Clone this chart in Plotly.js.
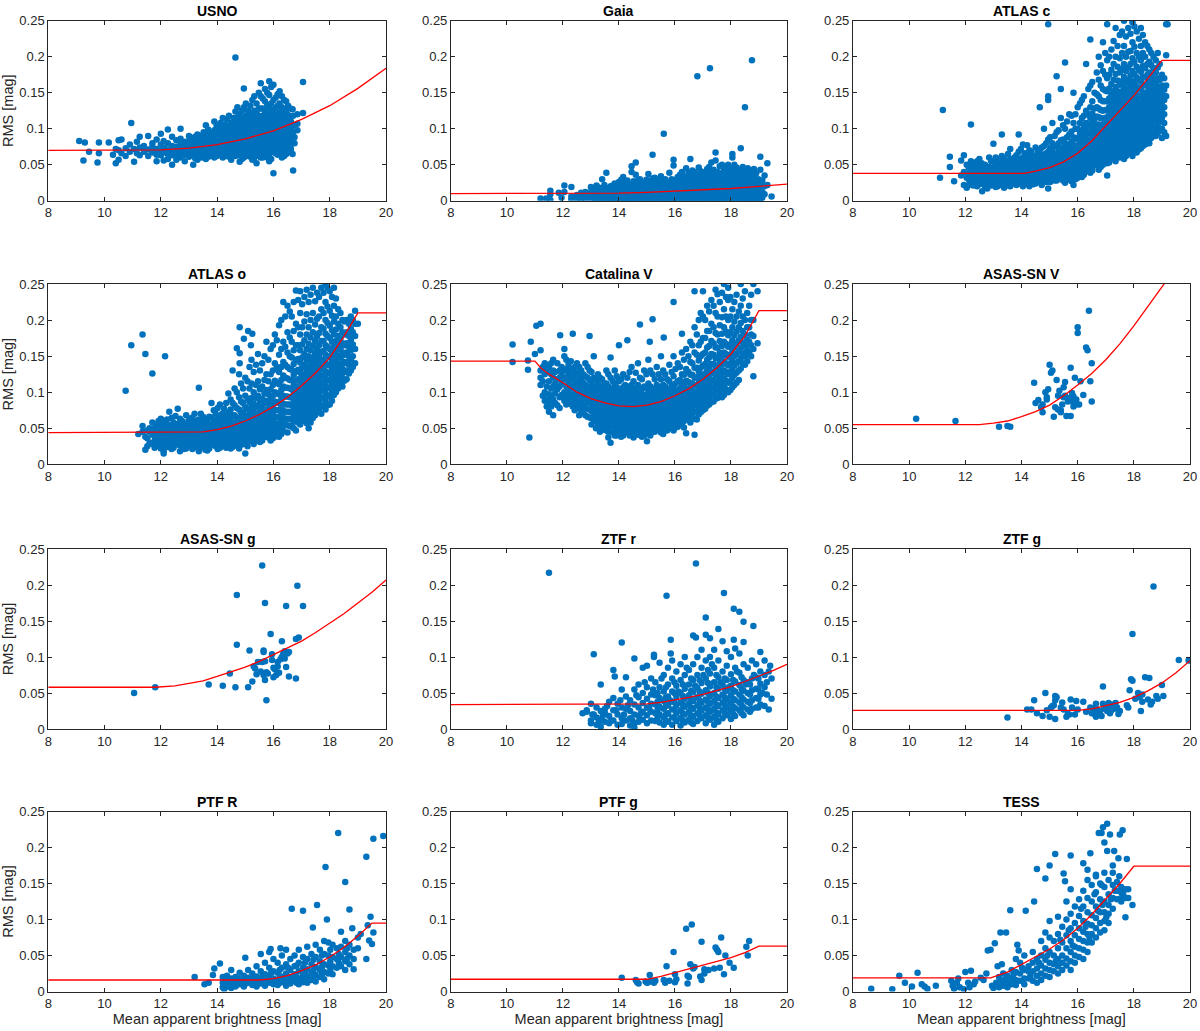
<!DOCTYPE html>
<html>
<head>
<meta charset="utf-8">
<script src="https://cdn.plot.ly/plotly-3.0.1.min.js"></script>
<style>
  html, body { margin: 0; padding: 0; background: #fff; }
  #plot { width: 1200px; height: 1031px; }
</style>
</head>
<body>
<div id="plot"></div>
<script>
// panel titles, in reading order
const panelNames = ['USNO', 'Gaia', 'ATLAS c', 'ATLAS o', 'Catalina V', 'ASAS-SN V',
  'ASAS-SN g', 'ZTF r', 'ZTF g', 'PTF R', 'PTF g', 'TESS']

const xTicks = [8, 10, 12, 14, 16, 18, 20]
const yTicks = [0, 0.05, 0.1, 0.15, 0.2, 0.25]
const yTickText = ['0', '0.05', '0.1', '0.15', '0.2', '0.25']

// scatter data: each entry is [magnitude, rms, rms, ...] (one column of points)
const usnoPts = [
  [9.1,.083],[9.25,.056],[9.3,.081],[9.45,.068],[9.75,.053],[9.8,.081,.066],[10.15,.081],[10.3,.064],
  [10.4,.052,.072],[10.5,.084,.07,.057],[10.6,.085,.066],[10.75,.073,.062],[10.9,.078,.068],[10.95,.108],
  [11.05,.054,.072],[11.15,.082,.066],[11.25,.089,.074,.063],[11.4,.076,.068],[11.55,.09,.071,.062],
  [11.7,.08,.067,.075],[11.85,.085,.072,.064,.055],[12.0,.093,.078,.07,.063],[12.1,.083,.074,.067,.056],
  [12.25,.099,.08,.071,.065,.058],[12.4,.089,.076,.069,.063,.05],[12.55,.084,.075,.07,.064,.057],
  [12.7,.1,.086,.078,.072,.066,.06],[12.85,.082,.075,.07,.064,.055],
  [13.0,.09,.083,.078,.074,.07,.066,.061],[13.15,.087,.08,.076,.072,.068,.063,.05],
  [13.3,.092,.085,.079,.075,.071,.067,.062,.057],[13.45,.09,.083,.078,.074,.07,.066,.06],
  [13.6,.105,.093,.087,.081,.077,.073,.069,.064,.058],[13.75,.095,.088,.083,.079,.075,.071,.067,.062],
  [13.9,.11,.098,.091,.086,.082,.078,.074,.07,.065,.06],[14.05,.1,.093,.088,.084,.08,.076,.072,.068,.063],
  [14.2,.115,.104,.096,.09,.086,.082,.078,.074,.07,.066,.06],[14.35,.113,.1,.094,.089,.085,.081,.077,.073,.069,.064],
  [14.5,.108,.099,.093,.088,.084,.08,.076,.072,.068,.063,.057],
  [14.65,.199,.124,.11,.102,.096,.091,.087,.083,.079,.075,.071,.066,.062],
  [14.8,.12,.108,.1,.095,.09,.086,.082,.078,.074,.07,.065,.054],
  [14.95,.156,.13,.115,.106,.1,.095,.091,.087,.083,.079,.075,.071,.066,.06],
  [15.1,.125,.113,.105,.099,.094,.09,.086,.082,.078,.074,.07,.065],
  [15.25,.14,.12,.11,.104,.099,.094,.09,.086,.082,.078,.074,.069,.063,.057],
  [15.4,.135,.122,.113,.106,.1,.095,.091,.087,.083,.079,.075,.07,.065,.052],
  [15.55,.163,.145,.128,.116,.108,.102,.097,.092,.088,.084,.08,.076,.071,.066,.06],
  [15.7,.155,.138,.124,.114,.107,.101,.096,.092,.088,.084,.08,.075,.07,.064],
  [15.85,.166,.147,.13,.118,.11,.104,.099,.094,.09,.086,.082,.077,.072,.066,.055],
  [16.0,.161,.14,.126,.116,.108,.102,.097,.093,.089,.085,.08,.075,.069,.038],
  [16.15,.148,.132,.12,.111,.104,.099,.094,.09,.086,.081,.076,.07,.064],
  [16.3,.145,.13,.119,.11,.103,.097,.092,.087,.082,.076,.068,.06],
  [16.45,.138,.124,.113,.105,.098,.092,.086,.08,.072,.065],
  [16.6,.128,.116,.106,.097,.09,.083,.075,.068],[16.7,.042,.095,.118],[16.85,.12,.107,.098],[17.05,.165,.122],
  [16.75,.105,.088,.08],[16.68,.127,.065],
  [13.08,.08,.072,.064],[13.22,.089,.082,.074,.066,.059],[13.38,.088,.081,.073,.069,.064],
  [13.52,.095,.086,.08,.076,.072,.068,.063],[13.68,.099,.09,.084,.079,.075,.071,.066,.061],
  [13.82,.092,.085,.081,.077,.073,.069,.064],[13.98,.104,.095,.089,.084,.08,.076,.072,.067,.062],
  [14.12,.108,.098,.092,.087,.083,.079,.075,.071,.066],[14.28,.106,.097,.092,.087,.083,.079,.075,.071,.067,.062],
  [14.42,.118,.103,.096,.091,.086,.082,.078,.074,.07,.066,.061],
  [14.58,.115,.104,.097,.092,.088,.084,.08,.076,.072,.068,.064],
  [14.72,.13,.116,.105,.098,.093,.089,.085,.081,.077,.073,.068,.063],
  [14.88,.125,.112,.104,.098,.093,.088,.084,.08,.076,.072,.067,.058],
  [15.02,.135,.118,.109,.102,.097,.092,.088,.084,.08,.076,.072,.068,.062],
  [15.18,.132,.117,.108,.101,.096,.092,.088,.084,.08,.076,.072,.067,.061],
  [15.32,.145,.125,.115,.107,.101,.096,.092,.088,.084,.08,.076,.071,.066,.06],
  [15.48,.15,.128,.118,.11,.104,.099,.094,.09,.085,.081,.077,.073,.068,.062],
  [15.62,.142,.128,.118,.111,.105,.099,.094,.09,.086,.082,.078,.073,.067,.06],
  [15.78,.15,.133,.121,.113,.106,.1,.095,.091,.087,.083,.078,.073,.068,.06],
  [15.92,.158,.135,.123,.114,.107,.101,.096,.091,.087,.083,.078,.073,.067,.058],
  [16.08,.143,.129,.118,.11,.104,.098,.093,.089,.084,.079,.073,.066],
  [16.22,.152,.135,.123,.114,.107,.101,.096,.091,.086,.08,.073,.066],
  [16.38,.14,.126,.116,.108,.101,.095,.089,.083,.077,.07,.062],
  [16.52,.132,.119,.109,.101,.094,.088,.081,.074,.067],[16.62,.11,.1,.086,.072]
]

const gaiaPts = [
  [11.2,.003],[11.4,.003],[11.55,.014,.009,.001],[11.85,.011],[11.95,.004],[12.05,.021,.012],
  [12.3,.019,.006,.002],[12.5,.008,.003],[12.65,.011,.005,.001],[12.8,.012,.007,.003],
  [13.0,.002,.007,.012,.019],[13.2,.001,.005,.01,.016,.021],[13.4,.003,.008,.013,.03],
  [13.55,.001,.006,.011,.017,.039],[13.7,.003,.008,.013,.02],[13.85,.001,.005,.01,.015,.024],
  [14.0,.002,.007,.012,.018,.026],[14.15,.001,.005,.01,.015,.021,.033],[14.3,.003,.008,.013,.019,.028],
  [14.45,.001,.005,.01,.016,.022,.048,.04],[14.6,.002,.007,.012,.017,.025,.053,.036],
  [14.75,.001,.005,.01,.015,.021,.03],[14.9,.003,.008,.013,.018,.026],[15.05,.001,.006,.011,.016,.022,.037],
  [15.2,.002,.007,.012,.017,.024,.064,.031],[15.35,.001,.005,.01,.015,.02,.028],
  [15.5,.003,.008,.013,.018,.025,.034],[15.6,.093],[15.65,.001,.006,.011,.016,.022,.03],
  [15.8,.002,.007,.012,.017,.023,.039],[15.95,.001,.005,.01,.015,.02,.027,.057,.049],
  [16.1,.003,.008,.013,.018,.024,.033],[16.25,.001,.006,.011,.016,.021,.028,.04],
  [16.4,.002,.007,.012,.017,.023,.031,.045],[16.55,.001,.005,.01,.015,.02,.026,.035,.058],
  [16.7,.003,.008,.013,.018,.024,.032,.04],[16.8,.173],[16.85,.001,.006,.011,.016,.021,.027,.036,.046],
  [17.0,.002,.007,.012,.017,.022,.029,.038],[17.15,.001,.005,.01,.015,.02,.026,.034,.044],[17.25,.184],
  [17.3,.003,.008,.013,.018,.023,.03,.04,.053],[17.45,.001,.006,.011,.016,.021,.027,.035,.067,.056],
  [17.6,.002,.007,.012,.017,.022,.028,.037,.048],[17.75,.001,.005,.01,.015,.02,.026,.033,.042],
  [17.9,.003,.008,.013,.018,.023,.029,.038,.05],[18.05,.001,.006,.011,.016,.021,.027,.035,.045,.065,.06],
  [18.2,.002,.007,.012,.017,.022,.028,.036,.046],[18.35,.001,.005,.01,.015,.02,.026,.033,.043,.073],
  [18.5,.003,.008,.013,.018,.023,.029,.038,.13],[18.6,.001,.006,.011,.016,.021,.027,.035,.045],
  [18.75,.002,.007,.012,.017,.022,.03,.04,.195],[18.9,.001,.005,.01,.015,.021,.028,.038],
  [19.05,.003,.009,.016,.024,.061,.043],[19.2,.009,.02,.035],[19.3,.052,.022],[19.45,.006],
  [13.1,.004,.009,.014],[13.3,.002,.007,.012,.018],[13.48,.004,.009,.015,.022],[13.62,.002,.007,.012,.017],
  [13.78,.004,.009,.014,.021],[13.92,.003,.008,.013,.019],[14.08,.004,.009,.014,.02,.029],
  [14.22,.003,.008,.012,.018,.024],[14.38,.002,.006,.011,.016,.022],[14.52,.003,.008,.013,.019,.027],
  [14.68,.004,.009,.014,.02,.028],[14.82,.003,.007,.012,.017,.023],[14.98,.004,.009,.014,.02,.029],
  [15.12,.003,.008,.013,.019,.027],[15.28,.004,.009,.014,.021,.032],[15.42,.002,.006,.011,.016,.022],
  [15.58,.004,.009,.014,.02,.028],[15.72,.003,.008,.013,.019,.026],[15.88,.004,.009,.014,.02,.03],
  [16.02,.003,.007,.012,.017,.022,.029],[16.18,.004,.009,.014,.02,.026,.036],[16.32,.003,.008,.013,.019,.025,.033],
  [16.48,.004,.009,.014,.02,.027,.038],[16.62,.003,.007,.012,.017,.023,.03,.042],
  [16.78,.004,.009,.014,.02,.026,.035],[16.92,.003,.008,.013,.019,.025,.032,.041],
  [17.08,.004,.009,.014,.019,.025,.031,.04],[17.22,.003,.007,.012,.018,.024,.03,.037,.047],
  [17.38,.004,.009,.014,.02,.026,.033,.043],[17.52,.003,.008,.013,.019,.025,.031,.04],
  [17.68,.004,.009,.014,.019,.024,.03,.038,.05],[17.82,.003,.007,.012,.017,.022,.028,.035,.045],
  [17.98,.004,.009,.014,.02,.025,.031,.04],[18.12,.003,.008,.013,.019,.025,.032,.041,.05],
  [18.28,.004,.009,.014,.019,.024,.03,.038],[18.42,.003,.007,.012,.017,.022,.028,.035,.047],
  [18.55,.004,.009,.014,.02,.026,.033,.042],[18.68,.003,.008,.013,.019,.025,.031,.038],
  [18.82,.004,.009,.014,.019,.025,.033,.044],[18.98,.003,.007,.012,.018,.023,.03],[19.12,.004,.012,.028]
]

const atlasCPts = [
  [11.1,.032],[11.2,.126],[11.45,.047,.061],[11.6,.027],[11.85,.056,.035],[11.95,.063,.04,.022],
  [12.05,.05,.032,.018],[12.2,.055,.045,.036,.028,.106],[12.35,.052,.043,.034,.025],
  [12.5,.058,.048,.04,.031,.023],[12.6,.013,.036],[12.7,.05,.043,.035,.028,.02],
  [12.85,.06,.047,.039,.032,.025],[13.0,.079,.055,.046,.038,.031,.023],[13.15,.058,.049,.041,.034,.027,.02],
  [13.3,.092,.062,.052,.044,.036,.029,.022],[13.45,.055,.047,.039,.032,.025],
  [13.6,.072,.058,.049,.041,.034,.027,.02],[13.75,.06,.05,.042,.035,.028],
  [13.9,.092,.068,.055,.046,.038,.031,.024],[14.05,.078,.06,.05,.042,.035,.028,.02],
  [14.2,.077,.063,.053,.045,.038,.031,.025],[14.35,.068,.057,.048,.041,.034,.027],
  [14.5,.074,.061,.052,.044,.037,.03,.024],[14.65,.13,.07,.058,.049,.042,.035,.028],
  [14.8,.1,.076,.064,.054,.046,.039,.032,.026],[14.95,.245,.145,.14,.085,.068,.058,.05,.043,.036,.029,.017],
  [15.1,.108,.08,.068,.059,.051,.044,.037,.03],[15.25,.173,.095,.075,.064,.056,.048,.041,.034,.028],
  [15.4,.155,.115,.084,.072,.063,.055,.047,.04,.033],[15.55,.192,.1,.08,.07,.061,.053,.046,.039,.032,.025],
  [15.7,.12,.092,.078,.068,.06,.052,.045,.038,.031],[15.85,.15,.108,.088,.077,.068,.06,.052,.045,.038,.03,.022],
  [16.0,.13,.1,.087,.077,.068,.06,.053,.046,.039,.032],[16.15,.14,.115,.097,.086,.077,.069,.061,.054,.047,.04,.033],
  [16.3,.19,.125,.108,.096,.086,.077,.069,.062,.055,.048,.041],
  [16.45,.224,.16,.13,.115,.103,.093,.084,.076,.068,.061,.054,.046,.039],
  [16.6,.15,.128,.114,.103,.094,.085,.077,.07,.063,.056,.049],
  [16.75,.2,.168,.145,.128,.116,.106,.097,.089,.081,.073,.066,.059,.051,.043],
  [16.9,.22,.18,.155,.138,.125,.114,.105,.096,.088,.08,.073,.066,.058,.05],
  [17.05,.245,.195,.17,.152,.138,.126,.116,.107,.098,.09,.082,.075,.067,.06,.052,.035],
  [17.2,.21,.182,.162,.147,.135,.124,.114,.105,.097,.089,.081,.073,.065,.058],
  [17.35,.24,.2,.176,.158,.144,.132,.122,.113,.104,.096,.088,.08,.072,.064,.055],
  [17.5,.23,.198,.178,.161,.148,.137,.127,.118,.109,.1,.092,.084,.076,.068,.06],
  [17.65,.25,.215,.19,.172,.157,.145,.135,.125,.116,.108,.1,.092,.084,.076,.067,.058],
  [17.8,.24,.207,.185,.168,.155,.144,.134,.125,.116,.108,.1,.092,.084,.075,.066],
  [17.95,.248,.22,.198,.18,.166,.154,.143,.133,.124,.115,.107,.099,.09,.081,.072,.062],
  [18.1,.235,.205,.186,.171,.159,.148,.138,.129,.12,.112,.103,.094,.085,.076,.067],
  [18.25,.24,.215,.195,.179,.166,.155,.145,.136,.127,.118,.11,.101,.092,.082,.073],
  [18.4,.22,.2,.184,.171,.16,.15,.141,.132,.123,.114,.105,.096,.086,.078],
  [18.55,.21,.193,.178,.166,.155,.146,.137,.128,.119,.11,.1,.09,.08],
  [18.7,.2,.184,.17,.158,.148,.139,.13,.121,.112,.102,.093],
  [18.85,.205,.185,.17,.158,.147,.137,.127,.117,.105,.094],
  [19.0,.175,.16,.148,.137,.127,.115,.1,.087],[19.15,.245,.202,.16,.145,.09],[19.2,.245],
  [12.12,.046,.038,.03,.022],[12.28,.05,.04,.031,.021],[12.42,.055,.046,.037,.029,.02],[12.58,.052,.044,.032,.025],
  [12.78,.047,.039,.031,.024,.017],[12.92,.055,.043,.035,.028,.021],[13.08,.06,.05,.042,.034,.027,.019],
  [13.22,.054,.045,.037,.03,.023],[13.38,.058,.048,.04,.033,.025,.018],[13.52,.065,.051,.043,.035,.028,.021],
  [13.68,.054,.045,.038,.031,.024],[13.82,.063,.053,.044,.037,.03,.022],[13.98,.072,.058,.048,.04,.033,.026],
  [14.12,.066,.055,.046,.038,.031,.024],[14.28,.07,.058,.049,.041,.034,.027,.02],[14.42,.062,.052,.044,.037,.03,.023],
  [14.58,.067,.056,.047,.04,.033,.026],[14.72,.074,.062,.052,.044,.037,.03,.022],
  [14.88,.08,.066,.056,.048,.04,.033,.026],[15.02,.088,.073,.062,.054,.047,.04,.033,.026],
  [15.18,.09,.076,.065,.056,.049,.042,.035,.028],[15.32,.098,.08,.069,.06,.052,.045,.038,.031],
  [15.48,.105,.085,.074,.065,.057,.049,.042,.035,.028],[15.62,.11,.088,.075,.066,.058,.05,.043,.036,.029],
  [15.78,.118,.096,.082,.072,.064,.056,.049,.042,.034,.027],[15.92,.12,.1,.086,.076,.068,.06,.052,.045,.038,.03],
  [16.08,.135,.108,.093,.082,.073,.065,.057,.05,.043,.036],[16.22,.145,.118,.102,.091,.082,.073,.065,.058,.051,.044,.036],
  [16.38,.155,.12,.104,.094,.084,.075,.067,.06,.052,.044],
  [16.52,.165,.138,.121,.109,.098,.089,.08,.072,.064,.057,.05,.042],
  [16.68,.178,.148,.13,.117,.106,.097,.088,.08,.072,.065,.058,.05],
  [16.82,.188,.16,.14,.126,.115,.105,.096,.088,.08,.072,.064,.056,.047],
  [16.98,.205,.175,.153,.138,.126,.115,.106,.097,.089,.081,.073,.065,.057],
  [17.12,.2,.175,.156,.142,.13,.12,.11,.101,.093,.085,.077,.069,.061,.053],
  [17.28,.222,.19,.168,.152,.139,.128,.118,.109,.1,.092,.084,.076,.068,.06],
  [17.42,.215,.186,.167,.152,.14,.13,.12,.111,.102,.094,.086,.078,.07,.061],
  [17.58,.235,.205,.183,.166,.152,.141,.131,.121,.112,.104,.096,.088,.08,.071,.063],
  [17.72,.228,.2,.18,.164,.151,.14,.13,.12,.112,.104,.096,.088,.08,.071,.062],
  [17.88,.232,.208,.19,.174,.16,.149,.138,.129,.12,.111,.103,.094,.085,.076,.067],
  [18.02,.242,.214,.193,.176,.163,.151,.14,.131,.122,.113,.105,.096,.087,.078,.069],
  [18.18,.225,.2,.182,.168,.156,.145,.135,.126,.117,.108,.099,.09,.081,.071],
  [18.32,.23,.205,.187,.172,.16,.149,.139,.13,.121,.112,.103,.094,.085,.076],
  [18.48,.215,.19,.175,.162,.151,.142,.133,.124,.115,.106,.097,.088,.08],
  [18.62,.205,.188,.174,.162,.152,.143,.134,.125,.116,.107,.097,.087],
  [18.78,.195,.178,.164,.152,.142,.132,.122,.111,.1,.09],[18.92,.19,.168,.153,.142,.132,.121,.11,.098],
  [19.08,.17,.154,.14,.13,.12,.108,.095]
]

const atlasOPts = [
  [10.75,.102],[10.95,.165],[11.2,.042],[11.35,.053,.045,.18],[11.45,.153,.02,.038],[11.6,.05,.03,.045],
  [11.7,.126,.058,.041,.028],[11.85,.055,.047,.037,.026],[12.0,.063,.05,.04,.032,.022],[12.1,.015,.018],
  [12.15,.15,.058,.046,.036,.027],[12.3,.073,.054,.044,.035,.027],[12.45,.058,.048,.039,.031,.023],
  [12.6,.077,.056,.046,.038,.03],[12.75,.06,.05,.041,.033,.025],[12.9,.068,.055,.046,.038,.03,.022],
  [13.05,.063,.052,.043,.035,.027],[13.2,.07,.057,.048,.039,.031,.024],
  [13.35,.106,.062,.052,.043,.035,.027,.018],[13.5,.066,.055,.046,.038,.03],
  [13.65,.06,.05,.041,.033,.025,.019],[13.8,.085,.065,.054,.045,.037,.029],
  [13.95,.07,.058,.049,.041,.033,.025],[14.1,.083,.066,.055,.046,.038,.03,.023],
  [14.25,.077,.062,.052,.043,.035,.027],[14.4,.098,.072,.06,.05,.042,.034,.026],
  [14.55,.13,.085,.068,.057,.048,.04,.032,.024],[14.7,.161,.1,.078,.065,.055,.046,.038,.03],
  [14.8,.19,.154,.14],[14.85,.112,.087,.072,.061,.052,.043,.035,.027],[14.95,.174],
  [15.0,.12,.095,.079,.067,.057,.048,.04,.032,.015],[15.1,.185],
  [15.15,.135,.105,.086,.073,.062,.053,.044,.036],[15.2,.165],[15.25,.181],
  [15.3,.128,.1,.084,.072,.062,.053,.045,.037,.028],[15.45,.153,.115,.095,.081,.07,.06,.051,.043,.035],
  [15.6,.14,.108,.091,.079,.068,.059,.05,.042,.033],[15.75,.17,.125,.103,.088,.076,.066,.057,.048,.04],
  [15.9,.16,.125,.104,.09,.078,.068,.059,.05,.041,.033],[16.05,.18,.14,.116,.1,.087,.076,.066,.057,.048,.04],
  [16.2,.193,.152,.128,.111,.097,.085,.075,.065,.056,.047,.038],
  [16.35,.225,.17,.142,.123,.108,.095,.084,.074,.064,.055,.046],
  [16.5,.22,.183,.155,.135,.119,.106,.094,.083,.073,.063,.054,.044],
  [16.65,.205,.17,.148,.131,.117,.104,.093,.082,.072,.062,.052],
  [16.8,.241,.195,.165,.145,.129,.116,.104,.093,.083,.073,.063,.047],
  [16.95,.24,.21,.18,.158,.141,.127,.115,.104,.094,.084,.074,.064,.055],
  [17.1,.232,.198,.172,.153,.138,.125,.114,.103,.093,.083,.073,.063],
  [17.25,.225,.19,.167,.15,.136,.124,.113,.103,.093,.083,.073,.062,.05],
  [17.4,.245,.21,.183,.164,.148,.135,.124,.114,.104,.094,.084,.074,.064],
  [17.55,.238,.202,.178,.16,.146,.134,.123,.113,.103,.093,.083,.073],
  [17.7,.245,.215,.19,.171,.156,.143,.132,.122,.112,.102,.092,.082,.07],
  [17.85,.25,.225,.2,.181,.165,.152,.14,.129,.119,.109,.099,.088,.076],
  [18.0,.24,.213,.192,.175,.16,.148,.137,.126,.116,.106,.095,.083],
  [18.15,.245,.22,.198,.18,.165,.152,.14,.129,.118,.107,.096],
  [18.3,.215,.195,.178,.164,.151,.139,.128,.117,.105],[18.45,.2,.183,.168,.155,.143,.132,.12,.108],
  [18.6,.2,.183,.168,.155,.142,.13,.118],[18.75,.205,.188,.172,.158,.145,.13],
  [18.9,.213,.195,.178,.16,.14],[19.0,.195],
  [11.52,.047,.036,.025],[11.78,.05,.043,.033,.023],[11.92,.06,.052,.043,.034,.026],[12.08,.055,.047,.038,.03,.022],
  [12.22,.062,.05,.041,.032,.024],[12.38,.064,.05,.04,.031,.021],[12.52,.067,.053,.043,.035,.027],
  [12.68,.063,.052,.042,.034,.026,.018],[12.82,.057,.046,.037,.029,.021],[12.98,.06,.05,.041,.033,.025],
  [13.12,.065,.054,.045,.036,.028,.021],[13.28,.06,.05,.042,.034,.026],[13.42,.07,.058,.048,.04,.032,.024],
  [13.58,.062,.052,.043,.035,.027,.02],[13.72,.066,.055,.046,.038,.03,.022],[13.88,.075,.061,.051,.043,.035,.027],
  [14.02,.078,.062,.052,.044,.036,.028,.021],[14.18,.07,.059,.05,.042,.034,.026],
  [14.32,.085,.067,.056,.047,.039,.031,.023],[14.48,.09,.076,.064,.054,.045,.037,.029,.022],
  [14.62,.105,.082,.068,.058,.049,.041,.033,.026],[14.78,.125,.093,.076,.064,.054,.046,.038,.03,.022],
  [14.92,.105,.085,.071,.061,.052,.044,.036,.028],[15.08,.115,.091,.077,.066,.057,.049,.041,.033,.025],
  [15.22,.145,.112,.092,.079,.068,.058,.049,.041,.032],[15.38,.138,.11,.092,.079,.068,.058,.05,.042,.033],
  [15.52,.13,.104,.088,.076,.066,.057,.048,.04,.031],[15.68,.15,.117,.098,.085,.074,.064,.055,.046,.038],
  [15.82,.145,.115,.097,.084,.073,.063,.054,.045,.037],[15.98,.165,.13,.11,.095,.083,.072,.063,.054,.045,.036],
  [16.12,.172,.135,.113,.098,.086,.075,.065,.056,.047,.039],
  [16.28,.2,.16,.135,.117,.103,.091,.08,.07,.06,.051,.042],
  [16.42,.205,.163,.138,.12,.106,.094,.083,.073,.063,.054],
  [16.58,.212,.176,.15,.132,.117,.105,.093,.083,.073,.063,.053],
  [16.72,.225,.185,.158,.139,.124,.111,.1,.089,.079,.069,.059,.05],
  [16.88,.228,.19,.165,.146,.131,.118,.107,.097,.087,.077,.067,.058],
  [17.02,.222,.19,.166,.148,.134,.121,.11,.1,.09,.08,.07,.06],
  [17.18,.242,.208,.18,.16,.145,.132,.12,.109,.099,.089,.079,.068,.057],
  [17.32,.235,.2,.176,.158,.143,.13,.119,.109,.099,.089,.079,.069,.058],
  [17.48,.226,.194,.171,.154,.141,.129,.118,.108,.098,.088,.078,.068],
  [17.62,.232,.205,.182,.165,.151,.139,.128,.117,.107,.097,.087,.076],
  [17.78,.238,.21,.188,.171,.157,.145,.134,.123,.113,.103,.092,.08],
  [17.92,.245,.219,.196,.178,.163,.15,.138,.127,.117,.106,.094,.082],
  [18.08,.232,.206,.186,.17,.156,.144,.133,.122,.111,.1,.088],
  [18.22,.23,.205,.187,.171,.158,.146,.134,.123,.112,.1],[18.38,.21,.19,.174,.16,.148,.136,.124,.112],
  [18.52,.198,.18,.165,.152,.14,.128,.116],[18.68,.195,.178,.163,.15,.138,.126],[18.82,.2,.183,.166,.15,.135]
]

const catalinaPts = [
  [10.2,.166,.142],[10.75,.144,.131],[10.8,.037],[10.85,.17],[11.0,.153],[11.05,.192],
  [11.2,.195,.158,.13,.12,.11],[11.35,.14,.125,.1,.088],[11.5,.135,.115,.097,.087,.073],
  [11.65,.145,.13,.12,.108,.09,.068],[11.8,.14,.118,.104,.082],[11.9,.179],[11.95,.135,.125,.112,.096],
  [12.05,.16,.15,.13,.118,.1,.088],[12.2,.138,.125,.113,.102,.09],[12.35,.181,.132,.12,.108,.096,.08],
  [12.5,.14,.127,.115,.104,.093,.082],[12.65,.13,.118,.107,.097,.087,.075],
  [12.8,.14,.122,.11,.1,.09,.08,.068],[12.95,.178,.13,.117,.106,.096,.086,.076,.065],
  [13.1,.15,.12,.108,.098,.089,.08,.071,.061],[13.25,.125,.112,.102,.093,.084,.075,.066,.056],
  [13.4,.118,.106,.097,.088,.079,.07,.061,.05],[13.55,.13,.112,.101,.092,.083,.075,.066,.057,.047],
  [13.7,.148,.12,.105,.096,.087,.079,.071,.062,.053,.03],[13.85,.13,.11,.1,.091,.083,.075,.067,.058,.049,.04],
  [14.0,.165,.115,.103,.094,.086,.078,.07,.062,.054,.045],[14.15,.125,.107,.097,.089,.081,.073,.065,.057,.049,.04],
  [14.3,.172,.12,.105,.096,.087,.079,.071,.063,.055,.047],[14.45,.135,.11,.099,.09,.082,.074,.066,.058,.05,.042],
  [14.6,.127,.105,.095,.086,.078,.07,.062,.054,.046],[14.75,.194,.12,.1,.091,.083,.075,.067,.059,.051,.043],
  [14.9,.13,.108,.096,.087,.079,.071,.063,.055,.047,.04],[15.0,.032],
  [15.05,.145,.112,.1,.09,.082,.074,.066,.058,.05,.042],[15.1,.17],
  [15.2,.201,.125,.105,.094,.085,.077,.069,.061,.053,.045],[15.35,.135,.11,.098,.089,.081,.073,.065,.057,.049],
  [15.5,.15,.118,.103,.093,.085,.077,.069,.061,.053,.044],[15.6,.176],
  [15.65,.125,.108,.097,.089,.081,.073,.065,.057,.048],[15.8,.138,.115,.102,.093,.085,.077,.069,.061,.053],
  [15.95,.225,.15,.122,.107,.097,.089,.081,.073,.065,.056,.047],[16.1,.14,.115,.102,.093,.085,.077,.069,.061,.052],
  [16.25,.181,.155,.125,.109,.099,.09,.082,.074,.066,.057],[16.4,.16,.132,.116,.105,.096,.088,.08,.072,.063,.043],
  [16.55,.17,.142,.124,.112,.102,.093,.085,.077,.068,.058],
  [16.7,.24,.19,.155,.134,.12,.109,.099,.09,.082,.073,.063,.041],
  [16.85,.2,.165,.144,.129,.117,.106,.097,.088,.079,.069],[17.0,.24,.205,.175,.153,.137,.124,.113,.103,.094,.085,.075],
  [17.15,.22,.185,.162,.145,.131,.12,.11,.1,.091,.081],[17.3,.228,.195,.171,.153,.139,.127,.116,.106,.096,.086],
  [17.45,.242,.21,.182,.162,.147,.134,.123,.112,.102,.091],[17.6,.225,.193,.171,.155,.142,.13,.119,.108,.097],
  [17.75,.25,.215,.19,.17,.155,.142,.13,.119,.108,.096],[17.9,.245,.228,.2,.179,.163,.149,.137,.125,.113,.1],
  [18.05,.215,.19,.172,.157,.144,.132,.12,.107],[18.2,.235,.205,.184,.167,.153,.14,.127,.113],
  [18.35,.25,.22,.196,.177,.161,.147,.133],[18.5,.24,.2,.18,.165,.15,.138],[18.65,.22,.19,.17,.155],
  [18.8,.25,.2,.178,.16,.122],[18.95,.24,.168],
  [11.28,.135,.115,.095],[11.42,.13,.108,.09,.08],[11.58,.14,.125,.105,.092,.08],[11.72,.128,.112,.098,.085],
  [11.88,.13,.12,.108,.093,.078],[12.12,.145,.132,.12,.108,.095,.083],[12.28,.143,.13,.118,.106,.094,.084],
  [12.42,.135,.124,.112,.1,.088,.075],[12.58,.135,.122,.11,.099,.088,.078,.068],[12.72,.125,.113,.102,.092,.082,.072],
  [12.88,.135,.12,.108,.097,.087,.077,.066],[13.02,.128,.114,.103,.093,.084,.074,.064,.055],
  [13.18,.117,.106,.096,.087,.078,.069,.06,.05],[13.32,.12,.108,.098,.089,.08,.071,.062,.053,.045],
  [13.48,.112,.102,.093,.084,.075,.066,.057,.048],[13.62,.125,.108,.098,.089,.08,.072,.063,.054,.045,.037],
  [13.78,.115,.103,.094,.085,.077,.069,.06,.052,.044],[13.92,.122,.107,.097,.088,.08,.072,.064,.056,.048,.04],
  [14.08,.118,.104,.095,.087,.079,.071,.063,.055,.047,.038],[14.22,.11,.1,.092,.084,.076,.068,.06,.052,.044],
  [14.38,.128,.108,.097,.088,.08,.072,.064,.056,.048,.04],[14.52,.115,.102,.093,.085,.077,.069,.061,.053,.045,.037],
  [14.68,.14,.11,.098,.089,.081,.073,.065,.057,.049,.041],[14.82,.118,.104,.094,.086,.078,.07,.062,.054,.046,.038],
  [14.98,.125,.106,.096,.087,.079,.071,.063,.055,.047],[15.12,.13,.108,.097,.088,.08,.072,.064,.056,.048,.04],
  [15.28,.118,.103,.093,.085,.077,.069,.061,.053,.045],[15.42,.125,.106,.096,.088,.08,.072,.064,.056,.048],
  [15.58,.13,.11,.1,.091,.083,.075,.067,.059,.05,.042],[15.72,.118,.104,.095,.087,.079,.071,.063,.055,.047],
  [15.88,.128,.11,.099,.091,.083,.075,.067,.059,.05],[16.02,.132,.112,.1,.092,.084,.076,.068,.06,.051],
  [16.18,.135,.117,.105,.096,.088,.08,.072,.064,.055],[16.32,.145,.124,.11,.1,.092,.084,.076,.068,.06,.051],
  [16.48,.15,.128,.114,.104,.095,.087,.079,.071,.062],[16.62,.165,.14,.124,.112,.102,.093,.085,.076,.067],
  [16.78,.18,.152,.134,.121,.11,.1,.091,.082,.073,.062],[16.92,.21,.17,.15,.134,.121,.11,.1,.091,.082,.072],
  [17.08,.2,.175,.155,.139,.126,.115,.105,.096,.086,.077],[17.22,.212,.185,.164,.148,.135,.123,.113,.103,.093,.083],
  [17.38,.22,.19,.168,.152,.139,.128,.117,.107,.097,.087],[17.52,.236,.205,.18,.162,.148,.136,.125,.114,.103,.092],
  [17.68,.238,.204,.181,.164,.15,.138,.126,.115,.104,.093],[17.82,.232,.205,.184,.167,.153,.14,.128,.116,.104],
  [17.98,.232,.205,.183,.166,.152,.14,.128,.115,.103],[18.12,.225,.198,.179,.163,.15,.137,.124,.11],
  [18.28,.212,.19,.172,.157,.143,.13,.117],[18.42,.23,.205,.185,.169,.154,.14],[18.58,.21,.19,.173,.158,.143],
  [18.72,.235,.2,.18,.165,.15]
]

const asasVPts = [
  [10.25,.063],[11.65,.060],[13.2,.052],[13.5,.053],[13.6,.052],[14.45,.113],[14.5,.085],[14.6,.089],
  [14.7,.079],[14.75,.072,.083],[14.85,.1],[14.9,.09,.093],[14.95,.104],[15.0,.138],[15.05,.127],[15.1,.13],
  [15.15,.066],[15.2,.079],[15.25,.117],[15.3,.095,.076],[15.35,.102],[15.4,.072,.075],[15.45,.083],
  [15.5,.107,.093],[15.55,.114,.095],[15.6,.067],[15.65,.087],[15.7,.09,.092],[15.75,.134,.067],
  [15.8,.099,.093],[15.85,.085,.08,.094],[15.9,.089,.12],[15.95,.083,.09],[16.0,.182,.19],[16.05,.083],
  [16.1,.115],[16.2,.096],[16.3,.162],[16.35,.158],[16.4,.213],[16.45,.115],[16.5,.14,.087]
]

const asasGPts = [
  [11.05,.05],[11.8,.058],[13.7,.062],[14.2,.06],[14.45,.077],[14.65,.058],[14.7,.186,.117],[15.1,.058],
  [15.15,.109],[15.25,.066],[15.3,.087],[15.35,.084],[15.4,.076],[15.45,.093],[15.55,.08],[15.6,.227,.093],
  [15.65,.109,.107,.075],[15.7,.175,.068,.094],[15.75,.04,.079],[15.8,.077],[15.9,.132],[15.95,.104,.096],
  [16.0,.072,.085],[16.05,.083],[16.1,.075],[16.15,.087,.093],[16.2,.078],[16.25,.097],[16.3,.122,.1],
  [16.35,.104,.103],[16.4,.098,.108],[16.45,.171,.086],[16.5,.105],[16.55,.073,.107],[16.8,.07,.125],
  [16.85,.199],[16.9,.127],[17.05,.171]
]

const ztfRPts = [
  [11.5,.217],[12.7,.022],[12.85,.026,.024],[13.0,.035,.012,.008],[13.1,.02,.104],[13.2,.03,.016,.006],
  [13.35,.062,.025,.013,.003],[13.5,.022,.01,.028],[13.65,.038,.018,.008],[13.8,.082,.043,.026,.012],[13.85,.073],
  [13.95,.035,.02,.006],[14.1,.12,.055,.03,.015,.007],[14.25,.072,.045,.028,.012],[14.4,.04,.025,.015,.005],
  [14.55,.098,.055,.034,.02,.008,.002],[14.7,.062,.044,.03,.018,.01],[14.85,.085,.05,.036,.024,.013],
  [15.0,.088,.058,.042,.03,.019,.008],[15.15,.07,.048,.035,.024,.012],[15.25,.103,.1],
  [15.3,.065,.047,.034,.022,.011],[15.45,.092,.058,.043,.031,.02,.009],[15.6,.075,.052,.039,.028,.016,.006],
  [15.7,.185],[15.75,.085,.062,.045,.033,.022,.01],[15.85,.124,.105],[15.9,.095,.07,.052,.038,.027,.016,.006],
  [16.05,.08,.06,.045,.033,.022,.011],[16.2,.09,.068,.05,.037,.026,.015,.005],
  [16.35,.1,.075,.056,.042,.031,.02,.009],[16.5,.082,.062,.047,.035,.024,.013],
  [16.65,.13,.09,.068,.051,.039,.028,.017,.007],[16.75,.23,.127],[16.8,.1,.075,.057,.044,.033,.022,.011],
  [16.95,.11,.085,.064,.049,.037,.026,.015],[17.1,.155,.131,.095,.07,.054,.041,.03,.019,.008],
  [17.25,.126,.1,.077,.059,.046,.035,.024,.013],[17.4,.11,.085,.065,.05,.039,.028,.017,.006],
  [17.55,.139,.095,.072,.056,.043,.032,.021,.01],[17.7,.122,.08,.062,.048,.037,.026,.015],[17.75,.189],
  [17.85,.108,.088,.068,.053,.041,.03,.019],[18.0,.1,.076,.06,.047,.036,.025,.014],[18.1,.167,.124],
  [18.15,.112,.085,.066,.052,.04,.029,.018],[18.3,.163,.105,.078,.061,.048,.037,.026],
  [18.45,.149,.121,.09,.068,.053,.041,.03,.019],[18.6,.085,.065,.05,.038,.027],[18.75,.095,.07,.054,.04,.028],
  [18.8,.143],[18.9,.09,.072,.056,.043,.03],[19.05,.107,.08,.063,.048,.034],[19.2,.095,.075,.058,.032],
  [19.35,.027,.08],[19.45,.07,.042],
  [15.38,.05,.038,.027,.016],[15.68,.058,.044,.032,.02,.012],[15.98,.065,.05,.038,.027,.016],
  [16.28,.062,.046,.034,.022,.012],[16.58,.07,.053,.041,.03,.019,.009],[16.88,.068,.052,.04,.03,.019],
  [17.18,.082,.064,.05,.038,.027,.016],[17.48,.075,.058,.045,.034,.023,.013],[17.78,.07,.056,.044,.034,.023],
  [18.08,.068,.054,.042,.031,.021],[18.38,.072,.056,.044,.033,.022],[18.68,.062,.048,.036,.024],
  [18.98,.07,.055,.042,.03],[19.28,.065,.048],
  [13.05,.02],[13.28,.009],[13.42,.018],[13.58,.032],[13.72,.012],[13.9,.026],[14.05,.04],[14.18,.02],
  [14.32,.033],[14.48,.012],[14.62,.047],[14.78,.022],[14.92,.065],[15.08,.028],[15.22,.055],[15.52,.07],
  [15.82,.04],[16.12,.052],[16.42,.085],[16.72,.06],[17.02,.075],[17.32,.09],[17.62,.065],[17.92,.058],
  [18.22,.08],[18.52,.062],[18.82,.075],[19.12,.05],[19.4,.088]
]

const ztfGPts = [
  [13.5,.016],[14.2,.027],[14.35,.027],[14.45,.04],[14.55,.022],[14.75,.018],[14.85,.05],[14.9,.026],
  [15.0,.017],[15.05,.03],[15.1,.032],[15.15,.033],[15.2,.046,.014,.04],[15.25,.044],[15.4,.03],[15.45,.037],
  [15.5,.027],[15.6,.017],[15.65,.021],[15.7,.02],[15.75,.041],[15.8,.03],[15.9,.02],[15.95,.039],[16.0,.027],
  [16.2,.038],[16.3,.024],[16.45,.03],[16.5,.022],[16.55,.029],[16.6,.021],[16.65,.017,.035],[16.7,.027],
  [16.75,.02],[16.8,.025],[16.85,.018],[16.9,.059,.035],[16.95,.028],[17.05,.03,.025],[17.1,.036],[17.15,.022],
  [17.2,.026,.034],[17.3,.028,.032],[17.35,.036],[17.4,.03],[17.45,.021],[17.5,.025],[17.75,.033],[17.8,.03],
  [17.85,.054],[17.9,.069],[17.95,.132,.067],[18.05,.042],[18.15,.05],[18.2,.044],[18.25,.025],[18.3,.048,.038],
  [18.4,.072],[18.5,.041],[18.55,.071],[18.6,.034],[18.65,.038],[18.7,.198],[18.8,.046],[18.85,.042],
  [19.0,.061],[19.05,.046],[19.6,.096],[19.95,.095]
]

const ptfRPts = [
  [13.2,.02],[13.55,.01],[13.7,.012],[13.85,.023],[13.9,.032],[14.1,.039],[14.25,.003],
  [14.2,.02,.012,.006],[14.35,.022,.014,.007],[14.5,.03,.018,.011,.005],[14.65,.02,.013,.007],
  [14.8,.026,.017,.01],[14.95,.022,.014,.007],[15.0,.047],[15.1,.03,.019,.012],[15.25,.025,.016,.009],
  [15.4,.035,.021,.013,.007],[15.55,.052,.028,.018,.011],[15.7,.04,.024,.015,.008],[15.85,.055,.033,.021,.012],
  [15.9,.059],[16.0,.045,.028,.018,.01],[16.15,.04,.026,.016,.009],[16.25,.06],[16.3,.05,.033,.021,.013],
  [16.45,.058,.038,.025,.015,.008],[16.6,.045,.03,.019,.011],[16.65,.115],[16.75,.05,.035,.024,.015],
  [16.9,.058,.04,.028,.018,.01],[17.05,.112,.048,.033,.022,.013],[17.2,.062,.045,.031,.021,.012],
  [17.35,.052,.038,.026,.016],[17.4,.089],[17.5,.065,.048,.034,.023,.014],[17.55,.12],[17.65,.058,.042,.03,.02],
  [17.8,.07,.052,.038,.027,.017],[17.85,.173],[17.9,.1],[17.95,.068,.05,.036,.025],[18.1,.065,.048,.035,.024],
  [18.25,.06,.045,.033],[18.3,.22],[18.4,.083,.062,.048,.035],[18.55,.152,.07,.055,.042,.03],
  [18.7,.114,.065,.05,.038],[18.8,.088],[18.85,.058,.045,.031],[19.0,.06,.075],[19.1,.08],
  [19.3,.187,.045],[19.35,.092],[19.4,.071],[19.45,.104],[19.5,.066],[19.55,.212,.082],[19.9,.216],
  [14.42,.016,.009],[14.72,.017,.01],[15.02,.019,.011],[15.32,.02,.012],[15.62,.022,.014],[15.92,.026,.016],
  [16.22,.03,.019,.012],[16.52,.033,.021,.013],[16.82,.036,.02,.012],[17.12,.04,.026,.017],[17.42,.044,.03,.02],
  [17.72,.05,.034,.023],[18.02,.058,.042,.03],[18.32,.052,.04],[18.62,.06,.046]
]

const ptfGPts = [
  [14.1,.019],[14.6,.016],[14.65,.013],[14.7,.011],[14.95,.014],[15.0,.012],[15.05,.013],[15.1,.023],
  [15.15,.015],[15.25,.012],[15.3,.015],[15.6,.016],[15.65,.012],[15.7,.035],[15.8,.015],[15.95,.055],
  [16.0,.024,.013],[16.05,.017],[16.4,.087],[16.45,.022,.011],[16.5,.02],[16.55,.038],[16.6,.093],
  [16.65,.032],[16.7,.034],[16.9,.021],[16.95,.069,.016],[17.05,.025,.031],[17.2,.03],[17.4,.032],
  [17.45,.061],[17.5,.058],[17.55,.055],[17.6,.033],[17.65,.075],[17.75,.024],[17.8,.05],[17.95,.04],
  [18.1,.033],[18.55,.062],[18.6,.05],[18.65,.07]
]

const tessPts = [
  [8.65,.004],[9.4,.003],[9.65,.022],[9.85,.012],[10.1,.007],[10.3,.026],[10.45,.01],[10.55,.007],
  [10.65,.004],[10.95,.008],[11.5,.015],[11.55,.008],[11.6,.004],[11.7,.012],[11.75,.018],[11.8,.006],
  [11.95,.003],[12.0,.027],[12.1,.012],[12.15,.006],[12.2,.029],[12.3,.01],[12.35,.014],[12.55,.019],
  [12.65,.016],[12.75,.025],[12.8,.057],[12.9,.058],[12.95,.008],[13.0,.005],[13.05,.067],[13.1,.012],
  [13.15,.035],[13.25,.082],[13.3,.038],[13.45,.082],[13.6,.113],[13.85,.065],[13.9,.057],[14.15,.112],
  [14.45,.125],[14.55,.17],[14.85,.157],[15.0,.175],[15.2,.191],[15.5,.164],[15.55,.153],[15.75,.189],
  [16.2,.178],[16.35,.169],[16.45,.192],[16.6,.135],[16.65,.162],[16.75,.22],[16.85,.22,.148],[16.9,.228],
  [16.95,.207,.165],[17.05,.233,.195],[17.15,.218],[17.25,.175],[17.3,.195],[17.45,.185],[17.5,.218],
  [17.6,.224],[17.7,.103],[17.75,.184],[17.95,.12],
  [13.2,.02,.012,.006],[13.35,.025,.015,.008],[13.5,.022,.013,.006],[13.65,.03,.018,.01],
  [13.8,.045,.027,.016,.009],[13.95,.04,.025,.015],[14.1,.05,.03,.018,.01],[14.25,.028,.018,.035],
  [14.4,.055,.04,.028,.015],[14.55,.045,.032,.022,.012],[14.7,.07,.05,.036,.025,.016],
  [14.85,.082,.06,.044,.032,.022],[15.0,.098,.075,.055,.04,.03,.02],[15.15,.07,.05,.038,.028],
  [15.3,.104,.08,.06,.045,.035,.025],[15.45,.09,.068,.05,.04,.03],[15.6,.125,.1,.078,.06,.046,.036],
  [15.75,.142,.108,.088,.07,.055,.042,.03],[15.9,.118,.095,.078,.062,.05,.04],
  [16.05,.128,.105,.088,.073,.06,.048],[16.2,.14,.118,.098,.083,.07,.058,.045],
  [16.35,.155,.13,.11,.094,.08,.068,.055],[16.5,.148,.125,.106,.092,.08,.068],
  [16.65,.16,.138,.118,.102,.088,.075],[16.8,.15,.128,.11,.095,.082],[16.95,.145,.125,.11,.098,.085],
  [17.1,.155,.135,.12,.108,.095],[17.25,.165,.148,.13,.115],[17.4,.14,.128,.152],[17.55,.145,.13,.138,.125],
  [17.7,.142,.13],[17.8,.142,.13],
  [13.42,.017],[13.72,.024],[14.02,.033],[14.32,.022],[14.62,.04],[14.92,.05],[15.22,.042],[15.38,.072],
  [15.68,.085],[15.82,.064],[16.12,.115],[16.28,.09],[16.42,.075],[16.72,.112],[16.88,.12],[17.02,.103],
  [17.18,.128],[17.32,.14],[17.62,.135],[17.48,.16]
]

// fitted noise curves: [magnitude, rms]
const usnoFit = [[8,.070],[11,.070],[12,.0705],[13,.073],[14,.078],[15,.086],[16,.097],[17,.113],[18,.132],[19,.156],[20,.184]]
const gaiaFit = [[8,.010],[13,.010],[14,.0105],[15,.0115],[16,.013],[17,.015],[18,.017],[19,.020],[20,.023]]
const atlasCFit = [[8,.038],[14.1,.038],[14.5,.041],[15,.046],[15.5,.054],[16,.066],[16.5,.083],[17,.104],[17.5,.124],[18,.146],[18.5,.170],[19,.195],[20,.195]]
const atlasOFit = [[8,.044],[13,.044],[13.5,.045],[14,.048],[14.5,.053],[15,.060],[15.5,.069],[16,.080],[16.5,.093],[17,.109],[17.5,.127],[18,.148],[18.5,.177],[19,.21],[20,.21]]
const catalinaFit = [[8,.143],[11,.143],[11.2,.134],[11.5,.125],[12,.113],[12.5,.100],[13,.091],[13.5,.085],[14,.081],[14.5,.080],[15,.082],[15.5,.087],[16,.095],[16.5,.105],[17,.118],[17.5,.134],[18,.153],[18.5,.178],[19,.213],[20,.213]]
const asasVFit = [[8,.055],[12.5,.055],[13,.057],[13.5,.060],[14,.066],[14.5,.073],[15,.082],[15.5,.095],[16,.110],[16.5,.126],[17,.145],[17.5,.167],[18,.192],[18.5,.219],[19.1,.25],[20,.30]]
const asasGFit = [[8,.058],[11.8,.058],[12.5,.060],[13,.063],[13.5,.067],[14,.073],[14.5,.079],[15,.086],[15.5,.094],[16,.103],[16.5,.112],[17,.122],[17.5,.134],[18,.147],[18.5,.160],[19,.175],[19.5,.190],[20,.207]]
const ztfRFit = [[8,.034],[14.5,.034],[15,.035],[15.5,.037],[16,.040],[16.5,.044],[17,.048],[17.5,.053],[18,.059],[18.5,.066],[19,.073],[19.5,.081],[20,.090]]
const ztfGFit = [[8,.026],[16,.026],[16.5,.028],[17,.032],[17.5,.037],[18,.044],[18.5,.053],[19,.064],[19.5,.078],[20,.095]]
const ptfRFit = [[8,.016],[15.5,.016],[16,.018],[16.5,.022],[17,.029],[17.5,.037],[18,.048],[18.5,.061],[19,.077],[19.5,.095],[20,.095]]
const ptfGFit = [[8,.017],[15,.017],[15.5,.021],[16,.026],[16.5,.031],[17,.036],[17.5,.041],[18,.047],[18.5,.054],[19,.063],[20,.063]]
const tessFit = [[8,.019],[12.9,.019],[13.5,.027],[14,.038],[14.5,.048],[15,.059],[15.5,.072],[16,.088],[16.5,.107],[17,.128],[17.5,.150],[18,.174],[20,.174]]

const panelPts = [usnoPts, gaiaPts, atlasCPts, atlasOPts, catalinaPts, asasVPts,
  asasGPts, ztfRPts, ztfGPts, ptfRPts, ptfGPts, tessPts]
const panelFits = [usnoFit, gaiaFit, atlasCFit, atlasOFit, catalinaFit, asasVFit,
  asasGFit, ztfRFit, ztfGFit, ptfRFit, ptfGFit, tessFit]

// subplot boxes in paper fractions
const colDomains = [[0.0402, 0.3217], [0.3758, 0.6558], [0.7108, 0.9917]]
const rowDomains = [[0.8053, 0.9799], [0.5497, 0.7245], [0.2929, 0.4675], [0.0383, 0.2129]]

const font = 'Liberation Sans, Arial, Helvetica, sans-serif'
const ink = '#262626'

const data = []
const layout = {
  width: 1200,
  height: 1031,
  margin: { l: 0, r: 0, t: 0, b: 0 },
  paper_bgcolor: '#fff',
  plot_bgcolor: '#fff',
  showlegend: false,
  font: { family: font, size: 13, color: ink },
  annotations: []
}

panelNames.forEach((name, i) => {
  const n = i + 1
  const row = Math.floor(i / 3)
  const col = i % 3
  const pts = panelPts[i].flatMap(c => c.slice(1).map(y => [c[0], y]))
  data.push({
    type: 'scatter',
    mode: 'markers',
    x: pts.map(p => p[0]),
    y: pts.map(p => p[1]),
    xaxis: 'x' + n,
    yaxis: 'y' + n,
    marker: { color: '#0072BD', size: 6.5, line: { width: 0 } },
    hoverinfo: 'skip'
  })
  data.push({
    type: 'scatter',
    mode: 'lines',
    x: panelFits[i].map(p => p[0]),
    y: panelFits[i].map(p => p[1]),
    xaxis: 'x' + n,
    yaxis: 'y' + n,
    line: { color: '#FF0000', width: 1.3 },
    hoverinfo: 'skip'
  })

  const axisCommon = {
    showline: true,
    linecolor: ink,
    linewidth: 1,
    mirror: 'ticks',
    ticks: 'inside',
    ticklen: 4,
    tickcolor: ink,
    showgrid: false,
    zeroline: false,
    automargin: false,
    tickfont: { family: font, size: 13, color: ink }
  }
  layout['xaxis' + n] = Object.assign({}, axisCommon, {
    domain: colDomains[col],
    anchor: 'y' + n,
    range: [8, 20],
    tickvals: xTicks,
    ticktext: xTicks.map(String),
    title: row === 3 ? { text: 'Mean apparent brightness [mag]', font: { family: font, size: 14.5, color: ink }, standoff: 3 } : { text: '' }
  })
  layout['yaxis' + n] = Object.assign({}, axisCommon, {
    domain: rowDomains[row],
    anchor: 'x' + n,
    range: [0, 0.25],
    tickvals: yTicks,
    ticktext: yTickText,
    title: col === 0 ? { text: 'RMS [mag]', font: { family: font, size: 14.5, color: ink }, standoff: 4 } : { text: '' }
  })
  layout.annotations.push({
    text: '<b>' + name + '</b>',
    xref: 'paper',
    yref: 'paper',
    x: (colDomains[col][0] + colDomains[col][1]) / 2,
    y: rowDomains[row][1],
    xanchor: 'center',
    yanchor: 'bottom',
    yshift: 0,
    showarrow: false,
    font: { family: font, size: 14, color: '#000' }
  })
})

Plotly.newPlot('plot', data, layout, { staticPlot: true })
</script>
</body>
</html>
